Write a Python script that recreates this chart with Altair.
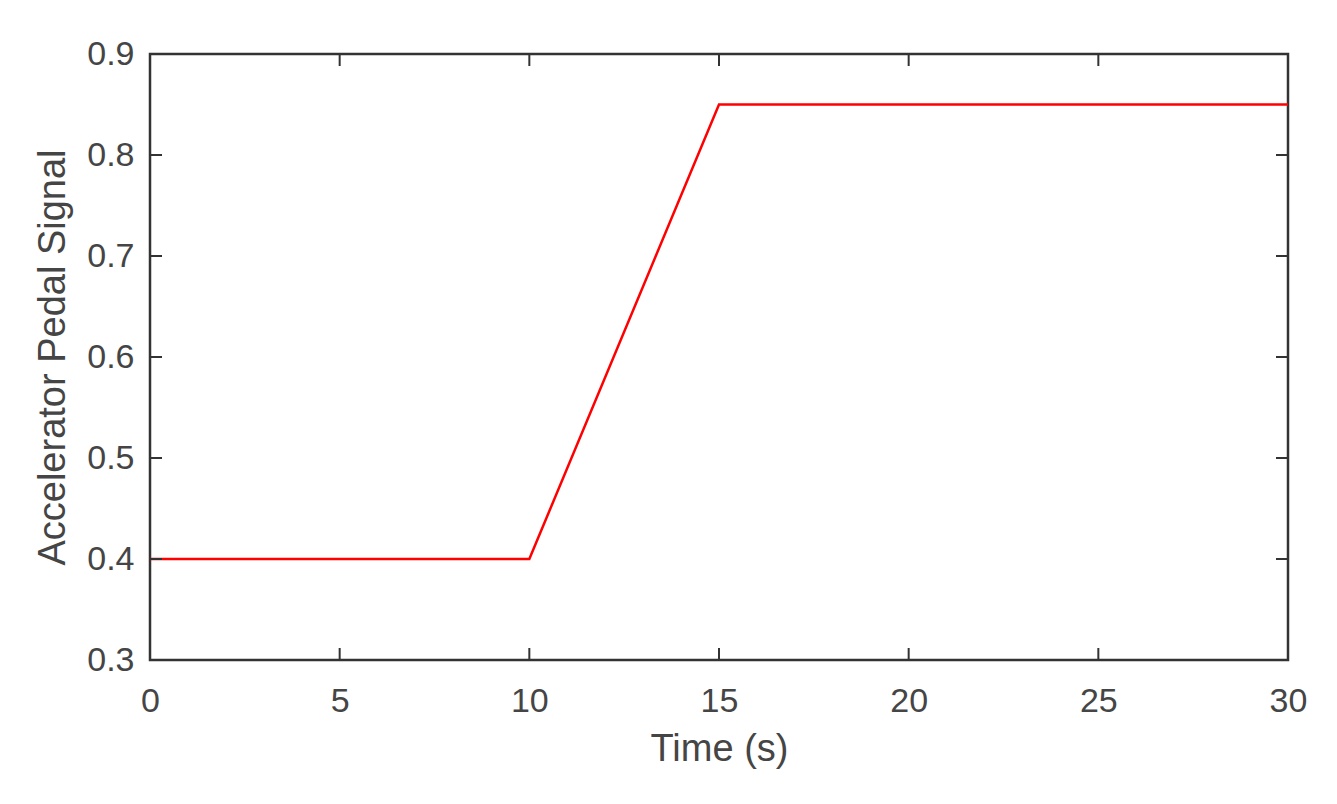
import altair as alt
import pandas as pd

time_s = [0, 10, 15, 30]
pedal = [0.4, 0.4, 0.85, 0.85]
x_ticks = [0, 5, 10, 15, 20, 25, 30]
y_ticks = [0.3, 0.4, 0.5, 0.6, 0.7, 0.8, 0.9]

W, H = 1138, 606
TL = 12
FONT = "Liberation Sans"
AX = "#333333"
TXT = "#454545"

df = pd.DataFrame({"t": time_s, "v": pedal})
dx = pd.DataFrame({"t": x_ticks})
dy = pd.DataFrame({"v": y_ticks})

xs = alt.Scale(domain=[0, 30], nice=False, zero=False)
ys = alt.Scale(domain=[0.3, 0.9], nice=False, zero=False)

line = alt.Chart(df).mark_line(color="#ff0000", strokeWidth=2.5).encode(
    x=alt.X("t:Q", scale=xs, axis=alt.Axis(
        title="Time (s)", values=x_ticks, format="d", domain=False, ticks=False, tickSize=0,
        grid=False, labelFont=FONT, labelFontSize=34, labelColor=TXT, labelPadding=24,
        labelFlush=False, labelOverlap=False,
        titleFont=FONT, titleFontSize=38, titleFontWeight="normal", titleColor=TXT,
        titlePadding=12)),
    y=alt.Y("v:Q", scale=ys, axis=alt.Axis(
        title="Accelerator Pedal Signal", values=y_ticks, format=".1f", domain=False, ticks=False,
        tickSize=0, grid=False, labelFont=FONT, labelFontSize=34, labelColor=TXT,
        labelPadding=16, labelFlush=False, labelOverlap=False,
        titleFont=FONT, titleFontSize=38, titleFontWeight="normal",
        titleColor=TXT, titlePadding=14)),
)

bottom_ticks = alt.Chart(dx).mark_rule(color=AX, strokeWidth=2).encode(
    x=alt.X("t:Q", scale=xs), y=alt.value(H - TL), y2=alt.value(H))
top_ticks = alt.Chart(dx).mark_rule(color=AX, strokeWidth=2).encode(
    x=alt.X("t:Q", scale=xs), y=alt.value(0), y2=alt.value(TL))
left_ticks = alt.Chart(dy).mark_rule(color=AX, strokeWidth=2).encode(
    y=alt.Y("v:Q", scale=ys), x=alt.value(0), x2=alt.value(TL))
right_ticks = alt.Chart(dy).mark_rule(color=AX, strokeWidth=2).encode(
    y=alt.Y("v:Q", scale=ys), x=alt.value(W - TL), x2=alt.value(W))

chart = alt.layer(line, bottom_ticks, top_ticks, left_ticks, right_ticks).properties(
    width=W, height=H,
    autosize=alt.AutoSizeParams(type="none"),
    padding={"left": 142, "top": 46, "right": 40, "bottom": 130},
).configure(
    background="white",
    view=alt.ViewConfig(stroke=AX, strokeWidth=2.5),
)

chart.save("out.html", embed_options={"renderer": "svg", "actions": False})
